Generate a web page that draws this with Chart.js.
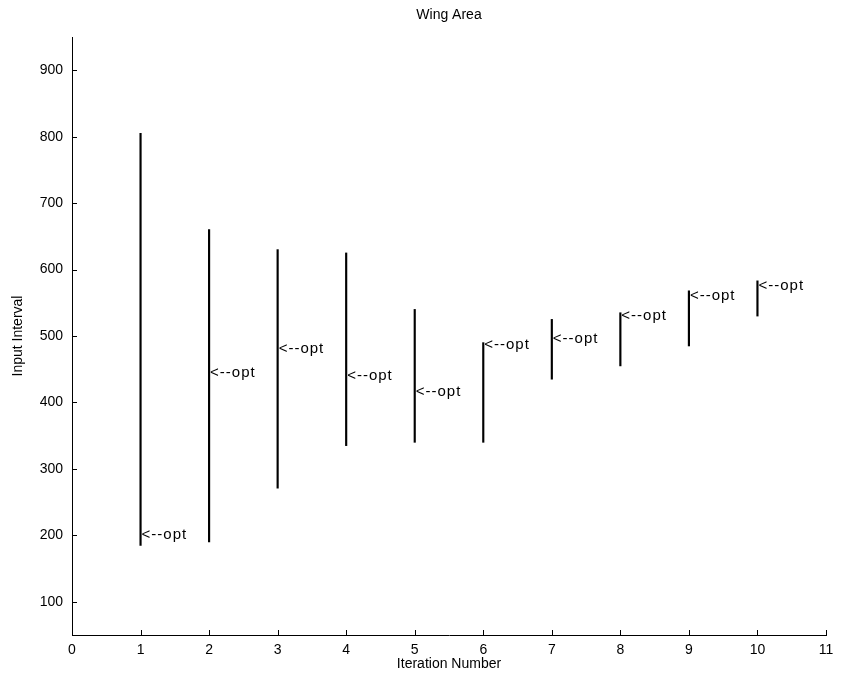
<!DOCTYPE html>
<html>
<head>
<meta charset="utf-8">
<title>Wing Area</title>
<script src="https://cdn.jsdelivr.net/npm/chart.js@4.4.1/dist/chart.umd.min.js"></script>
<style>
  html, body { margin: 0; padding: 0; background: #fff; }
  #wrap { width: 843px; height: 698px; position: relative; }
</style>
</head>
<body>
<div id="wrap"><canvas id="intervalChart"></canvas></div>
<script>
// Input interval for the wing area at each optimisation iteration
const iterations = [1, 2, 3, 4, 5, 6, 7, 8, 9, 10];
const lowerBound = [185, 190, 271, 335, 340, 340, 435, 455, 485, 530];
const upperBound = [805, 660, 630, 625, 540, 490, 525, 535, 568, 583];
const optimum    = [200, 445, 480, 440, 416, 487, 495, 531, 560, 575];

const xTicks = [0, 1, 2, 3, 4, 5, 6, 7, 8, 9, 10, 11];
const yTicks = [100, 200, 300, 400, 500, 600, 700, 800, 900];

const FONT = 'Liberation Sans, Arial, Helvetica, sans-serif';

// "<--opt" marker next to each interval, plus inward tick marks like a matlab axis
const optLabels = {
  id: 'optLabels',
  afterDatasetsDraw(chart) {
    const { ctx, scales: { x, y } } = chart;
    ctx.save();
    ctx.fillStyle = '#000';
    ctx.font = '15px ' + FONT;
    ctx.letterSpacing = '1px';
    ctx.textAlign = 'left';
    ctx.textBaseline = 'middle';
    iterations.forEach((it, i) => {
      ctx.fillText('<--opt', x.getPixelForValue(it) + 1, y.getPixelForValue(optimum[i]));
    });
    ctx.letterSpacing = '0px';

    // tick marks
    ctx.strokeStyle = '#000';
    ctx.lineWidth = 1;
    ctx.beginPath();
    const yb = y.getPixelForValue(y.min);
    xTicks.forEach(v => {
      const px = Math.round(x.getPixelForValue(v)) + 0.5;
      ctx.moveTo(px, yb);
      ctx.lineTo(px, yb - 5);
    });
    const xl = x.getPixelForValue(x.min);
    yTicks.forEach(v => {
      const py = Math.round(y.getPixelForValue(v)) + 0.5;
      ctx.moveTo(xl, py);
      ctx.lineTo(xl + 5, py);
    });
    ctx.stroke();
    ctx.restore();
  }
};

const ctx = document.getElementById('intervalChart').getContext('2d');
new Chart(ctx, {
  type: 'bar',
  data: {
    datasets: [{
      label: 'Input interval',
      data: iterations.map((it, i) => ({ x: it, y: [lowerBound[i], upperBound[i]] })),
      backgroundColor: '#000',
      borderWidth: 0,
      barThickness: 1.5,
      grouped: false,
    }],
  },
  options: {
    responsive: true,
    maintainAspectRatio: false,
    animation: false,
    layout: { padding: { top: 0, right: 17, bottom: 0, left: 0 } },
    plugins: {
      legend: { display: false },
      tooltip: { enabled: false },
      title: {
        display: true,
        fullSize: false,
        text: 'Wing Area',
        color: '#000',
        font: { family: FONT, size: 14, weight: 'normal' },
        padding: { top: 6.6, bottom: 13.6 },
      },
    },
    scales: {
      x: {
        type: 'linear',
        min: 0,
        max: 11,
        offset: false,
        afterBuildTicks: s => { s.ticks = xTicks.map(v => ({ value: v })); },
        afterFit: s => { s.height = 63; },
        grid: { display: false, drawTicks: false },
        border: { display: true, color: '#000', width: 1 },
        ticks: { color: '#000', padding: 7, font: { family: FONT, size: 14 } },
        title: {
          display: true,
          text: 'Iteration Number',
          color: '#000',
          font: { family: FONT, size: 14 },
          padding: { top: 0, bottom: 25.6 },
        },
      },
      y: {
        min: 50,
        max: 950,
        afterBuildTicks: s => { s.ticks = yTicks.map(v => ({ value: v })); },
        afterFit: s => { s.width = 72; },
        grid: { display: false, drawTicks: false },
        border: { display: true, color: '#000', width: 1 },
        ticks: { color: '#000', padding: 9, font: { family: FONT, size: 14 } },
        title: {
          display: true,
          text: 'Input Interval',
          color: '#000',
          font: { family: FONT, size: 14 },
          padding: { top: 10, bottom: 0 },
        },
      },
    },
  },
  plugins: [optLabels],
});
</script>
</body>
</html>
